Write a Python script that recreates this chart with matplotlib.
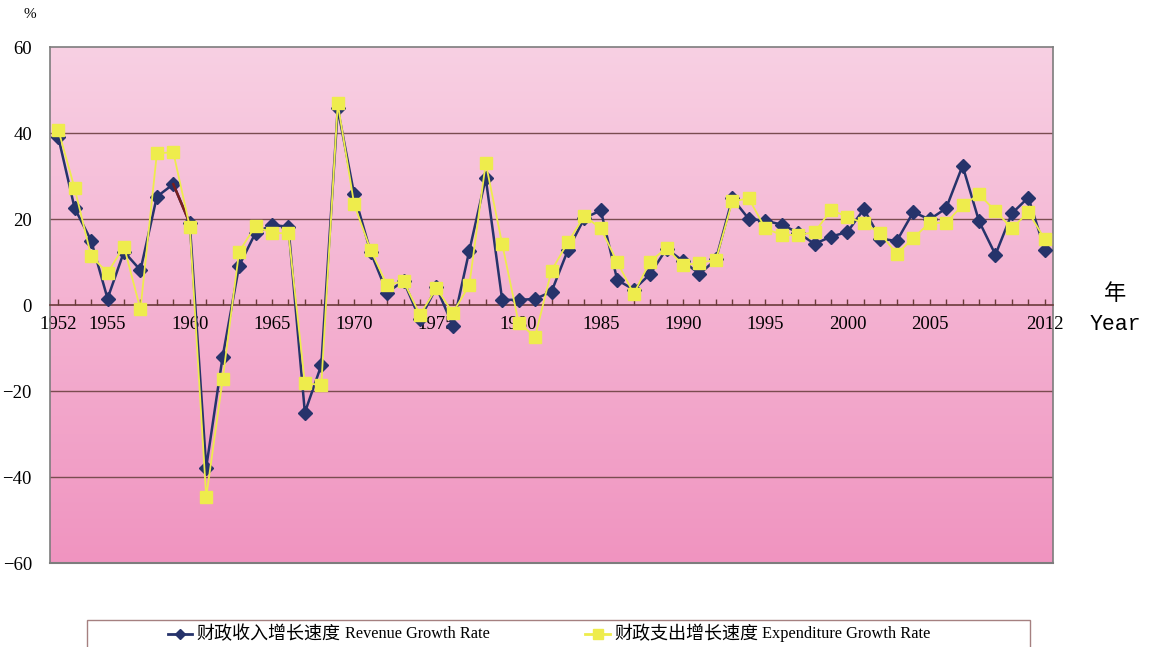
import numpy as np
import matplotlib
matplotlib.use("Agg")
import matplotlib.pyplot as plt
from matplotlib.patches import Rectangle
from matplotlib.lines import Line2D

# data (%)
years = list(range(1952, 2013))
revenue = [39.1, 22.5, 15.0, 1.5, 12.4, 8.1, 25.2, 28.1, 19.0, -37.8,
           -12.0, 9.1, 16.8, 18.6, 18.2, -25.0, -14.0, 45.7, 25.7, 12.3,
           2.9, 5.6, -3.3, 4.1, -4.8, 12.6, 29.5, 1.2, 1.2, 1.4,
           3.1, 12.8, 20.2, 22.0, 5.8, 3.6, 7.2, 13.1, 10.2, 7.2,
           10.6, 24.8, 20.0, 19.6, 18.7, 16.8, 14.2, 15.9, 17.0, 22.3,
           15.4, 14.9, 21.6, 19.9, 22.5, 32.4, 19.5, 11.7, 21.3, 25.0, 12.9]
expenditure = [40.8, 27.1, 11.4, 7.5, 13.6, -1.0, 35.3, 35.5, 18.2, -44.7,
               -17.3, 12.4, 18.4, 16.7, 16.7, -18.2, -18.6, 46.9, 23.4, 12.8,
               4.6, 5.6, -2.3, 3.9, -1.8, 4.6, 33.0, 14.2, -4.1, -7.4,
               8.0, 14.6, 20.7, 17.8, 10.0, 2.6, 10.1, 13.3, 9.2, 9.8,
               10.5, 24.1, 24.8, 17.8, 16.3, 16.3, 16.9, 22.1, 20.5, 19.0,
               16.7, 11.8, 15.6, 19.1, 19.1, 23.2, 25.7, 21.9, 17.8, 21.6, 15.3]
label_years = [1952, 1955, 1960, 1965, 1970, 1975, 1980, 1985, 1990, 1995, 2000, 2005, 2012]
yticks = [60, 40, 20, 0, -20, -40, -60]

navy = "#26336b"
yellow = "#eeec4c"
frame = "#7d7d7d"
serif = "Liberation Serif"
cjk = ["Noto Sans CJK SC", "DejaVu Sans"]

fig = plt.figure(figsize=(11.5, 6.47), dpi=100)
W, H = 1150, 647
ax = fig.add_axes([50 / W, 1 - 563 / H, (1053 - 50) / W, (563 - 47) / H])

x0, x1 = years[0] - 0.5, years[-1] + 0.5
ax.set_xlim(x0, x1)
ax.set_ylim(-60, 60)

# pink gradient background
grad = np.linspace(0, 1, 256).reshape(-1, 1)
top = np.array([248, 208, 227]) / 255
bot = np.array([240, 148, 192]) / 255
img = top + (bot - top) * grad[:, :, None]
ax.imshow(img, extent=[x0, x1, -60, 60], aspect="auto", origin="upper", zorder=0)

for v in [40, 20, -20, -40]:
    ax.axhline(v, color="#7a4c50", lw=1.0, zorder=1)
# bottom edge of the frame (the bottom spine is moved to zero)
ax.axhline(-60, color=frame, lw=1.5, zorder=5, clip_on=False)

ax.plot(years, revenue, color=navy, lw=1.8, marker="D", ms=7, zorder=3)
ax.plot(years[7:9], revenue[7:9], color="#7a1e1e", lw=1.8, zorder=3.5)
ax.plot(years, expenditure, color=yellow, lw=1.3, marker="s", ms=8, zorder=4)

for s in ax.spines.values():
    s.set_color(frame)
    s.set_linewidth(1.2)
ax.spines["bottom"].set_position(("data", 0))
ax.spines["bottom"].set_color("#6a3a3a")

ax.set_xticks(years)
ax.set_xticklabels([str(y) if y in label_years else "" for y in years], fontsize=13.5, family=serif)
ax.tick_params(axis="x", direction="in", length=4.5, width=1.0, color="#6a3a3a", pad=8)
ax.set_yticks(yticks)
ax.set_yticklabels([str(v).replace("-", "\u2212") for v in yticks], fontsize=13.5, family=serif)
ax.tick_params(axis="y", length=0, pad=13)

fig.text(30 / W, 1 - 14 / H, "%", fontsize=11, family=serif, ha="center", va="center")
fig.text(1115 / W, 1 - 294 / H, "年", fontsize=16, family=cjk, ha="center", va="center")
fig.text(1115 / W, 1 - 324 / H, "Year", fontsize=15.5, family="Liberation Mono", ha="center", va="center")

# legend box
fig.patches.append(Rectangle((87 / W, 1 - 652 / H), (1030 - 87) / W, 32 / H,
                             transform=fig.transFigure, fill=False, ec="#a58080", lw=1.0))
ly = 1 - 634 / H
for xs, col, mk, ms, cn, en, xe, fs in [
        ((168, 192), navy, "D", 5, "财政收入增长速度", "Revenue Growth Rate", 345, 11.7),
        ((585, 610), yellow, "s", 7, "财政支出增长速度", "Expenditure Growth Rate", 762, 11.8)]:
    fig.lines.append(Line2D([xs[0] / W, xs[1] / W], [ly, ly], transform=fig.transFigure,
                            color=col, lw=2))
    fig.lines.append(Line2D([(xs[0] + xs[1]) / 2 / W], [ly], transform=fig.transFigure,
                            color=col, marker=mk, ms=ms, lw=0))
    fig.text((xs[1] + 4) / W, ly, cn, fontsize=13, family=cjk, ha="left", va="center")
    fig.text(xe / W, ly, en, fontsize=fs, family=serif, ha="left", va="center")

fig.savefig("out.png", dpi=100)
